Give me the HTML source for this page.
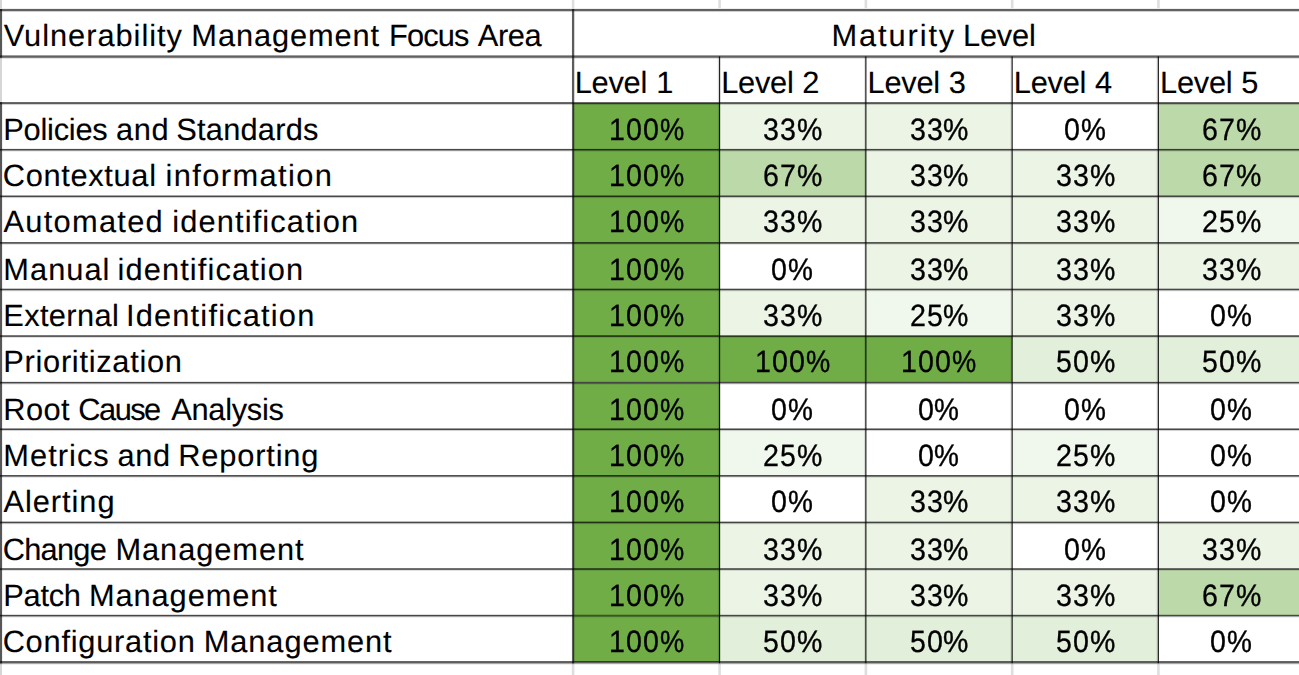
<!DOCTYPE html>
<html lang="en"><head><meta charset="utf-8"><title>Vulnerability Management Maturity</title>
<style>
html,body{margin:0;padding:0;background:#fff}
body{width:1299px;height:675px;position:relative;overflow:hidden;font-family:"Liberation Sans",sans-serif;color:#000;font-size:30.8px;line-height:1;text-rendering:geometricPrecision}
.c{position:absolute}
.gl{position:absolute;left:0;top:0;filter:blur(0.35px)}
.t{position:absolute;left:0;white-space:nowrap;height:30.8px}
.t span{position:absolute;top:0;white-space:pre;-webkit-text-stroke:0.12px #000}
.n{font-size:30.8px;height:30.8px}
.n span{-webkit-text-stroke:0.22px #000}
.n .d{transform-origin:0 0;-webkit-text-stroke:0.3px #000}
.n .p{transform-origin:0 0;-webkit-text-stroke:0.42px #000}

</style></head><body>
<div class="c" style="left:573.0px;top:103.0px;width:146.5px;height:46.6px;background:#70ad47"></div>
<div class="c" style="left:719.5px;top:103.0px;width:146.3px;height:46.6px;background:#ecf4e6"></div>
<div class="c" style="left:865.8px;top:103.0px;width:146.3px;height:46.6px;background:#ecf4e6"></div>
<div class="c" style="left:1158.3px;top:103.0px;width:146.3px;height:46.6px;background:#bcd9a9"></div>
<div class="c" style="left:573.0px;top:149.6px;width:146.5px;height:46.6px;background:#70ad47"></div>
<div class="c" style="left:719.5px;top:149.6px;width:146.3px;height:46.6px;background:#bcd9a9"></div>
<div class="c" style="left:865.8px;top:149.6px;width:146.3px;height:46.6px;background:#ecf4e6"></div>
<div class="c" style="left:1012.1px;top:149.6px;width:146.2px;height:46.6px;background:#ecf4e6"></div>
<div class="c" style="left:1158.3px;top:149.6px;width:146.3px;height:46.6px;background:#bcd9a9"></div>
<div class="c" style="left:573.0px;top:196.2px;width:146.5px;height:46.6px;background:#70ad47"></div>
<div class="c" style="left:719.5px;top:196.2px;width:146.3px;height:46.6px;background:#ecf4e6"></div>
<div class="c" style="left:865.8px;top:196.2px;width:146.3px;height:46.6px;background:#ecf4e6"></div>
<div class="c" style="left:1012.1px;top:196.2px;width:146.2px;height:46.6px;background:#ecf4e6"></div>
<div class="c" style="left:1158.3px;top:196.2px;width:146.3px;height:46.6px;background:#f0f7ec"></div>
<div class="c" style="left:573.0px;top:242.8px;width:146.5px;height:46.6px;background:#70ad47"></div>
<div class="c" style="left:865.8px;top:242.8px;width:146.3px;height:46.6px;background:#ecf4e6"></div>
<div class="c" style="left:1012.1px;top:242.8px;width:146.2px;height:46.6px;background:#ecf4e6"></div>
<div class="c" style="left:1158.3px;top:242.8px;width:146.3px;height:46.6px;background:#ecf4e6"></div>
<div class="c" style="left:573.0px;top:289.3px;width:146.5px;height:46.6px;background:#70ad47"></div>
<div class="c" style="left:719.5px;top:289.3px;width:146.3px;height:46.6px;background:#ecf4e6"></div>
<div class="c" style="left:865.8px;top:289.3px;width:146.3px;height:46.6px;background:#f0f7ec"></div>
<div class="c" style="left:1012.1px;top:289.3px;width:146.2px;height:46.6px;background:#ecf4e6"></div>
<div class="c" style="left:573.0px;top:335.9px;width:146.5px;height:46.6px;background:#70ad47"></div>
<div class="c" style="left:719.5px;top:335.9px;width:146.3px;height:46.6px;background:#70ad47"></div>
<div class="c" style="left:865.8px;top:335.9px;width:146.3px;height:46.6px;background:#70ad47"></div>
<div class="c" style="left:1012.1px;top:335.9px;width:146.2px;height:46.6px;background:#e2efda"></div>
<div class="c" style="left:1158.3px;top:335.9px;width:146.3px;height:46.6px;background:#e2efda"></div>
<div class="c" style="left:573.0px;top:382.5px;width:146.5px;height:46.6px;background:#70ad47"></div>
<div class="c" style="left:573.0px;top:429.1px;width:146.5px;height:46.6px;background:#70ad47"></div>
<div class="c" style="left:719.5px;top:429.1px;width:146.3px;height:46.6px;background:#f0f7ec"></div>
<div class="c" style="left:1012.1px;top:429.1px;width:146.2px;height:46.6px;background:#f0f7ec"></div>
<div class="c" style="left:573.0px;top:475.7px;width:146.5px;height:46.6px;background:#70ad47"></div>
<div class="c" style="left:865.8px;top:475.7px;width:146.3px;height:46.6px;background:#ecf4e6"></div>
<div class="c" style="left:1012.1px;top:475.7px;width:146.2px;height:46.6px;background:#ecf4e6"></div>
<div class="c" style="left:573.0px;top:522.3px;width:146.5px;height:46.6px;background:#70ad47"></div>
<div class="c" style="left:719.5px;top:522.3px;width:146.3px;height:46.6px;background:#ecf4e6"></div>
<div class="c" style="left:865.8px;top:522.3px;width:146.3px;height:46.6px;background:#ecf4e6"></div>
<div class="c" style="left:1158.3px;top:522.3px;width:146.3px;height:46.6px;background:#ecf4e6"></div>
<div class="c" style="left:573.0px;top:568.9px;width:146.5px;height:46.6px;background:#70ad47"></div>
<div class="c" style="left:719.5px;top:568.9px;width:146.3px;height:46.6px;background:#ecf4e6"></div>
<div class="c" style="left:865.8px;top:568.9px;width:146.3px;height:46.6px;background:#ecf4e6"></div>
<div class="c" style="left:1012.1px;top:568.9px;width:146.2px;height:46.6px;background:#ecf4e6"></div>
<div class="c" style="left:1158.3px;top:568.9px;width:146.3px;height:46.6px;background:#bcd9a9"></div>
<div class="c" style="left:573.0px;top:615.5px;width:146.5px;height:46.6px;background:#70ad47"></div>
<div class="c" style="left:719.5px;top:615.5px;width:146.3px;height:46.6px;background:#e2efda"></div>
<div class="c" style="left:865.8px;top:615.5px;width:146.3px;height:46.6px;background:#e2efda"></div>
<div class="c" style="left:1012.1px;top:615.5px;width:146.2px;height:46.6px;background:#e2efda"></div>
<svg class="gl" width="1299" height="675" viewBox="0 0 1299 675"><rect x="571.80" y="0.00" width="2.60" height="8.20" fill="#000" fill-opacity="0.13"/><rect x="571.80" y="663.66" width="2.60" height="11.34" fill="#000" fill-opacity="0.13"/><rect x="718.30" y="0.00" width="2.60" height="8.20" fill="#000" fill-opacity="0.13"/><rect x="718.30" y="663.66" width="2.60" height="11.34" fill="#000" fill-opacity="0.13"/><rect x="864.60" y="0.00" width="2.60" height="8.20" fill="#000" fill-opacity="0.13"/><rect x="864.60" y="663.66" width="2.60" height="11.34" fill="#000" fill-opacity="0.13"/><rect x="1010.90" y="0.00" width="2.60" height="8.20" fill="#000" fill-opacity="0.13"/><rect x="1010.90" y="663.66" width="2.60" height="11.34" fill="#000" fill-opacity="0.13"/><rect x="1157.10" y="0.00" width="2.60" height="8.20" fill="#000" fill-opacity="0.13"/><rect x="1157.10" y="663.66" width="2.60" height="11.34" fill="#000" fill-opacity="0.13"/><rect x="0.00" y="0.00" width="2.00" height="8.20" fill="#000" fill-opacity="0.16"/><rect x="0.00" y="57.79" width="2.00" height="43.99" fill="#000" fill-opacity="0.16"/><rect x="0.00" y="663.66" width="2.00" height="11.34" fill="#000" fill-opacity="0.16"/><rect x="0.0" y="8.90" width="1299.0" height="2.20" fill="#000" fill-opacity="0.62"/><rect x="0.0" y="11.10" width="1299.0" height="1.00" fill="#000" fill-opacity="0.14"/><rect x="0.0" y="55.39" width="1299.0" height="2.40" fill="#000" fill-opacity="0.62"/><rect x="0.0" y="57.79" width="1299.0" height="1.00" fill="#000" fill-opacity="0.14"/><rect x="0.0" y="102.08" width="1299.0" height="2.00" fill="#000" fill-opacity="0.64"/><rect x="0.0" y="104.08" width="1299.0" height="1.00" fill="#000" fill-opacity="0.14"/><rect x="0.0" y="148.92" width="1299.0" height="1.60" fill="#000" fill-opacity="0.72"/><rect x="0.0" y="150.52" width="1299.0" height="1.00" fill="#000" fill-opacity="0.14"/><rect x="0.0" y="195.51" width="1299.0" height="1.60" fill="#000" fill-opacity="0.72"/><rect x="0.0" y="197.11" width="1299.0" height="1.00" fill="#000" fill-opacity="0.14"/><rect x="0.0" y="242.10" width="1299.0" height="1.60" fill="#000" fill-opacity="0.72"/><rect x="0.0" y="243.70" width="1299.0" height="1.00" fill="#000" fill-opacity="0.14"/><rect x="0.0" y="288.69" width="1299.0" height="1.60" fill="#000" fill-opacity="0.72"/><rect x="0.0" y="290.29" width="1299.0" height="1.00" fill="#000" fill-opacity="0.14"/><rect x="0.0" y="335.28" width="1299.0" height="1.60" fill="#000" fill-opacity="0.72"/><rect x="0.0" y="336.88" width="1299.0" height="1.00" fill="#000" fill-opacity="0.14"/><rect x="0.0" y="381.87" width="1299.0" height="1.60" fill="#000" fill-opacity="0.72"/><rect x="0.0" y="383.47" width="1299.0" height="1.00" fill="#000" fill-opacity="0.14"/><rect x="0.0" y="428.46" width="1299.0" height="1.60" fill="#000" fill-opacity="0.72"/><rect x="0.0" y="430.06" width="1299.0" height="1.00" fill="#000" fill-opacity="0.14"/><rect x="0.0" y="475.05" width="1299.0" height="1.60" fill="#000" fill-opacity="0.72"/><rect x="0.0" y="476.65" width="1299.0" height="1.00" fill="#000" fill-opacity="0.14"/><rect x="0.0" y="521.64" width="1299.0" height="1.60" fill="#000" fill-opacity="0.72"/><rect x="0.0" y="523.24" width="1299.0" height="1.00" fill="#000" fill-opacity="0.14"/><rect x="0.0" y="568.23" width="1299.0" height="1.60" fill="#000" fill-opacity="0.72"/><rect x="0.0" y="569.83" width="1299.0" height="1.00" fill="#000" fill-opacity="0.14"/><rect x="0.0" y="614.82" width="1299.0" height="1.60" fill="#000" fill-opacity="0.72"/><rect x="0.0" y="616.42" width="1299.0" height="1.00" fill="#000" fill-opacity="0.14"/><rect x="0.0" y="661.06" width="1299.0" height="2.40" fill="#000" fill-opacity="0.64"/><rect x="0.0" y="663.46" width="1299.0" height="1.00" fill="#000" fill-opacity="0.14"/><rect x="0.00" y="8.90" width="2.10" height="48.89" fill="#000" fill-opacity="0.66"/><rect x="0.00" y="102.08" width="2.10" height="561.38" fill="#000" fill-opacity="0.66"/><rect x="571.95" y="8.90" width="2.30" height="654.56" fill="#000" fill-opacity="0.64"/><rect x="718.92" y="56.39" width="1.25" height="606.87" fill="#000" fill-opacity="0.86"/><rect x="717.70" y="56.39" width="1.20" height="606.87" fill="#000" fill-opacity="0.10"/><rect x="865.22" y="56.39" width="1.25" height="606.87" fill="#000" fill-opacity="0.86"/><rect x="864.00" y="56.39" width="1.20" height="606.87" fill="#000" fill-opacity="0.10"/><rect x="1011.52" y="56.39" width="1.25" height="606.87" fill="#000" fill-opacity="0.86"/><rect x="1010.30" y="56.39" width="1.20" height="606.87" fill="#000" fill-opacity="0.10"/><rect x="1157.72" y="56.39" width="1.25" height="606.87" fill="#000" fill-opacity="0.86"/><rect x="1156.50" y="56.39" width="1.20" height="606.87" fill="#000" fill-opacity="0.10"/></svg>
<div class="t" style="top:21px"><span style="left:3.71px;letter-spacing:0.970px">Vulnerability </span><span style="left:191.37px;letter-spacing:0.877px">Management </span><span style="left:388.97px;letter-spacing:-0.839px">Focus </span><span style="left:477.86px;letter-spacing:-0.420px">Area</span></div>
<div class="t" style="top:21px"><span style="left:831.57px;letter-spacing:1.879px">Maturity </span><span style="left:962.97px;letter-spacing:-0.200px">Level</span></div>
<div class="t" style="top:68px"><span style="left:574.77px;letter-spacing:-0.275px">Level </span><span style="left:656.24px">1</span></div>
<div class="t" style="top:68px"><span style="left:721.27px;letter-spacing:-0.275px">Level </span><span style="left:802.22px">2</span></div>
<div class="t" style="top:68px"><span style="left:867.57px;letter-spacing:-0.275px">Level </span><span style="left:948.77px">3</span></div>
<div class="t" style="top:68px"><span style="left:1013.87px;letter-spacing:-0.275px">Level </span><span style="left:1094.99px">4</span></div>
<div class="t" style="top:68px"><span style="left:1160.07px;letter-spacing:-0.275px">Level </span><span style="left:1241.30px">5</span></div>
<div class="t" style="top:115px"><span style="left:3.32px;letter-spacing:-0.246px">Policies </span><span style="left:116.02px;letter-spacing:0.647px">and </span><span style="left:176.35px;letter-spacing:0.204px">Standards</span></div>
<div class="t" style="top:161px"><span style="left:2.84px;letter-spacing:0.658px">Contextual </span><span style="left:165.41px;letter-spacing:1.418px">information</span></div>
<div class="t" style="top:207px"><span style="left:3.56px;letter-spacing:1.275px">Automated </span><span style="left:172.21px;letter-spacing:1.138px">identification</span></div>
<div class="t" style="top:255px"><span style="left:3.32px;letter-spacing:1.028px">Manual </span><span style="left:117.51px;letter-spacing:1.114px">identification</span></div>
<div class="t" style="top:301px"><span style="left:3.32px;letter-spacing:0.349px">External </span><span style="left:125.94px;letter-spacing:1.186px">Identification</span></div>
<div class="t" style="top:347px"><span style="left:3.32px;letter-spacing:0.705px">Prioritization</span></div>
<div class="t" style="top:395px"><span style="left:3.32px;letter-spacing:0.375px">Root </span><span style="left:78.34px;letter-spacing:-1.528px">Cause </span><span style="left:171.26px;letter-spacing:-0.297px">Analysis</span></div>
<div class="t" style="top:441px"><span style="left:3.32px;letter-spacing:1.030px">Metrics </span><span style="left:117.52px;letter-spacing:0.597px">and </span><span style="left:178.27px;letter-spacing:0.823px">Reporting</span></div>
<div class="t" style="top:487px"><span style="left:3.56px;letter-spacing:0.935px">Alerting</span></div>
<div class="t" style="top:535px"><span style="left:2.64px;letter-spacing:-0.733px">Change </span><span style="left:115.47px;letter-spacing:0.932px">Management</span></div>
<div class="t" style="top:581px"><span style="left:3.27px;letter-spacing:-0.278px">Patch </span><span style="left:88.97px;letter-spacing:0.899px">Management</span></div>
<div class="t" style="top:627px"><span style="left:2.64px;letter-spacing:0.755px">Configuration </span><span style="left:203.77px;letter-spacing:0.899px">Management</span></div>
<div class="t n" style="top:115px"><span class="d" style="left:608.53px;transform:scaleX(0.93);letter-spacing:1.15px">100</span><span class="p" style="left:659.67px;transform:scaleX(0.884)">%</span></div>
<div class="t n" style="top:115px"><span class="d" style="left:763.30px;transform:scaleX(0.93);letter-spacing:1.15px">33</span><span class="p" style="left:797.18px;transform:scaleX(0.925)">%</span></div>
<div class="t n" style="top:115px"><span class="d" style="left:909.60px;transform:scaleX(0.93);letter-spacing:1.15px">33</span><span class="p" style="left:943.48px;transform:scaleX(0.925)">%</span></div>
<div class="t n" style="top:115px"><span class="d" style="left:1063.94px;transform:scaleX(0.93)">0</span><span class="p" style="left:1080.64px;transform:scaleX(0.909)">%</span></div>
<div class="t n" style="top:115px"><span class="d" style="left:1201.89px;transform:scaleX(0.93);letter-spacing:1.15px">67</span><span class="p" style="left:1235.98px;transform:scaleX(0.925)">%</span></div>
<div class="t n" style="top:161px"><span class="d" style="left:608.53px;transform:scaleX(0.93);letter-spacing:1.15px">100</span><span class="p" style="left:659.67px;transform:scaleX(0.884)">%</span></div>
<div class="t n" style="top:161px"><span class="d" style="left:763.09px;transform:scaleX(0.93);letter-spacing:1.15px">67</span><span class="p" style="left:797.18px;transform:scaleX(0.925)">%</span></div>
<div class="t n" style="top:161px"><span class="d" style="left:909.60px;transform:scaleX(0.93);letter-spacing:1.15px">33</span><span class="p" style="left:943.48px;transform:scaleX(0.925)">%</span></div>
<div class="t n" style="top:161px"><span class="d" style="left:1055.85px;transform:scaleX(0.93);letter-spacing:1.15px">33</span><span class="p" style="left:1089.73px;transform:scaleX(0.925)">%</span></div>
<div class="t n" style="top:161px"><span class="d" style="left:1201.89px;transform:scaleX(0.93);letter-spacing:1.15px">67</span><span class="p" style="left:1235.98px;transform:scaleX(0.925)">%</span></div>
<div class="t n" style="top:207px"><span class="d" style="left:608.53px;transform:scaleX(0.93);letter-spacing:1.15px">100</span><span class="p" style="left:659.67px;transform:scaleX(0.884)">%</span></div>
<div class="t n" style="top:207px"><span class="d" style="left:763.30px;transform:scaleX(0.93);letter-spacing:1.15px">33</span><span class="p" style="left:797.18px;transform:scaleX(0.925)">%</span></div>
<div class="t n" style="top:207px"><span class="d" style="left:909.60px;transform:scaleX(0.93);letter-spacing:1.15px">33</span><span class="p" style="left:943.48px;transform:scaleX(0.925)">%</span></div>
<div class="t n" style="top:207px"><span class="d" style="left:1055.85px;transform:scaleX(0.93);letter-spacing:1.15px">33</span><span class="p" style="left:1089.73px;transform:scaleX(0.925)">%</span></div>
<div class="t n" style="top:207px"><span class="d" style="left:1202.08px;transform:scaleX(0.93);letter-spacing:1.15px">25</span><span class="p" style="left:1235.98px;transform:scaleX(0.925)">%</span></div>
<div class="t n" style="top:255px"><span class="d" style="left:608.53px;transform:scaleX(0.93);letter-spacing:1.15px">100</span><span class="p" style="left:659.67px;transform:scaleX(0.884)">%</span></div>
<div class="t n" style="top:255px"><span class="d" style="left:771.39px;transform:scaleX(0.93)">0</span><span class="p" style="left:788.09px;transform:scaleX(0.909)">%</span></div>
<div class="t n" style="top:255px"><span class="d" style="left:909.60px;transform:scaleX(0.93);letter-spacing:1.15px">33</span><span class="p" style="left:943.48px;transform:scaleX(0.925)">%</span></div>
<div class="t n" style="top:255px"><span class="d" style="left:1055.85px;transform:scaleX(0.93);letter-spacing:1.15px">33</span><span class="p" style="left:1089.73px;transform:scaleX(0.925)">%</span></div>
<div class="t n" style="top:255px"><span class="d" style="left:1202.10px;transform:scaleX(0.93);letter-spacing:1.15px">33</span><span class="p" style="left:1235.98px;transform:scaleX(0.925)">%</span></div>
<div class="t n" style="top:301px"><span class="d" style="left:608.53px;transform:scaleX(0.93);letter-spacing:1.15px">100</span><span class="p" style="left:659.67px;transform:scaleX(0.884)">%</span></div>
<div class="t n" style="top:301px"><span class="d" style="left:763.30px;transform:scaleX(0.93);letter-spacing:1.15px">33</span><span class="p" style="left:797.18px;transform:scaleX(0.925)">%</span></div>
<div class="t n" style="top:301px"><span class="d" style="left:909.58px;transform:scaleX(0.93);letter-spacing:1.15px">25</span><span class="p" style="left:943.48px;transform:scaleX(0.925)">%</span></div>
<div class="t n" style="top:301px"><span class="d" style="left:1055.85px;transform:scaleX(0.93);letter-spacing:1.15px">33</span><span class="p" style="left:1089.73px;transform:scaleX(0.925)">%</span></div>
<div class="t n" style="top:301px"><span class="d" style="left:1210.19px;transform:scaleX(0.93)">0</span><span class="p" style="left:1226.89px;transform:scaleX(0.909)">%</span></div>
<div class="t n" style="top:347px"><span class="d" style="left:608.53px;transform:scaleX(0.93);letter-spacing:1.15px">100</span><span class="p" style="left:659.67px;transform:scaleX(0.884)">%</span></div>
<div class="t n" style="top:347px"><span class="d" style="left:754.93px;transform:scaleX(0.93);letter-spacing:1.15px">100</span><span class="p" style="left:806.07px;transform:scaleX(0.884)">%</span></div>
<div class="t n" style="top:347px"><span class="d" style="left:901.23px;transform:scaleX(0.93);letter-spacing:1.15px">100</span><span class="p" style="left:952.37px;transform:scaleX(0.884)">%</span></div>
<div class="t n" style="top:347px"><span class="d" style="left:1055.78px;transform:scaleX(0.93);letter-spacing:1.15px">50</span><span class="p" style="left:1089.73px;transform:scaleX(0.925)">%</span></div>
<div class="t n" style="top:347px"><span class="d" style="left:1202.03px;transform:scaleX(0.93);letter-spacing:1.15px">50</span><span class="p" style="left:1235.98px;transform:scaleX(0.925)">%</span></div>
<div class="t n" style="top:395px"><span class="d" style="left:608.53px;transform:scaleX(0.93);letter-spacing:1.15px">100</span><span class="p" style="left:659.67px;transform:scaleX(0.884)">%</span></div>
<div class="t n" style="top:395px"><span class="d" style="left:771.39px;transform:scaleX(0.93)">0</span><span class="p" style="left:788.09px;transform:scaleX(0.909)">%</span></div>
<div class="t n" style="top:395px"><span class="d" style="left:917.69px;transform:scaleX(0.93)">0</span><span class="p" style="left:934.39px;transform:scaleX(0.909)">%</span></div>
<div class="t n" style="top:395px"><span class="d" style="left:1063.94px;transform:scaleX(0.93)">0</span><span class="p" style="left:1080.64px;transform:scaleX(0.909)">%</span></div>
<div class="t n" style="top:395px"><span class="d" style="left:1210.19px;transform:scaleX(0.93)">0</span><span class="p" style="left:1226.89px;transform:scaleX(0.909)">%</span></div>
<div class="t n" style="top:441px"><span class="d" style="left:608.53px;transform:scaleX(0.93);letter-spacing:1.15px">100</span><span class="p" style="left:659.67px;transform:scaleX(0.884)">%</span></div>
<div class="t n" style="top:441px"><span class="d" style="left:763.28px;transform:scaleX(0.93);letter-spacing:1.15px">25</span><span class="p" style="left:797.18px;transform:scaleX(0.925)">%</span></div>
<div class="t n" style="top:441px"><span class="d" style="left:917.69px;transform:scaleX(0.93)">0</span><span class="p" style="left:934.39px;transform:scaleX(0.909)">%</span></div>
<div class="t n" style="top:441px"><span class="d" style="left:1055.83px;transform:scaleX(0.93);letter-spacing:1.15px">25</span><span class="p" style="left:1089.73px;transform:scaleX(0.925)">%</span></div>
<div class="t n" style="top:441px"><span class="d" style="left:1210.19px;transform:scaleX(0.93)">0</span><span class="p" style="left:1226.89px;transform:scaleX(0.909)">%</span></div>
<div class="t n" style="top:487px"><span class="d" style="left:608.53px;transform:scaleX(0.93);letter-spacing:1.15px">100</span><span class="p" style="left:659.67px;transform:scaleX(0.884)">%</span></div>
<div class="t n" style="top:487px"><span class="d" style="left:771.39px;transform:scaleX(0.93)">0</span><span class="p" style="left:788.09px;transform:scaleX(0.909)">%</span></div>
<div class="t n" style="top:487px"><span class="d" style="left:909.60px;transform:scaleX(0.93);letter-spacing:1.15px">33</span><span class="p" style="left:943.48px;transform:scaleX(0.925)">%</span></div>
<div class="t n" style="top:487px"><span class="d" style="left:1055.85px;transform:scaleX(0.93);letter-spacing:1.15px">33</span><span class="p" style="left:1089.73px;transform:scaleX(0.925)">%</span></div>
<div class="t n" style="top:487px"><span class="d" style="left:1210.19px;transform:scaleX(0.93)">0</span><span class="p" style="left:1226.89px;transform:scaleX(0.909)">%</span></div>
<div class="t n" style="top:535px"><span class="d" style="left:608.53px;transform:scaleX(0.93);letter-spacing:1.15px">100</span><span class="p" style="left:659.67px;transform:scaleX(0.884)">%</span></div>
<div class="t n" style="top:535px"><span class="d" style="left:763.30px;transform:scaleX(0.93);letter-spacing:1.15px">33</span><span class="p" style="left:797.18px;transform:scaleX(0.925)">%</span></div>
<div class="t n" style="top:535px"><span class="d" style="left:909.60px;transform:scaleX(0.93);letter-spacing:1.15px">33</span><span class="p" style="left:943.48px;transform:scaleX(0.925)">%</span></div>
<div class="t n" style="top:535px"><span class="d" style="left:1063.94px;transform:scaleX(0.93)">0</span><span class="p" style="left:1080.64px;transform:scaleX(0.909)">%</span></div>
<div class="t n" style="top:535px"><span class="d" style="left:1202.10px;transform:scaleX(0.93);letter-spacing:1.15px">33</span><span class="p" style="left:1235.98px;transform:scaleX(0.925)">%</span></div>
<div class="t n" style="top:581px"><span class="d" style="left:608.53px;transform:scaleX(0.93);letter-spacing:1.15px">100</span><span class="p" style="left:659.67px;transform:scaleX(0.884)">%</span></div>
<div class="t n" style="top:581px"><span class="d" style="left:763.30px;transform:scaleX(0.93);letter-spacing:1.15px">33</span><span class="p" style="left:797.18px;transform:scaleX(0.925)">%</span></div>
<div class="t n" style="top:581px"><span class="d" style="left:909.60px;transform:scaleX(0.93);letter-spacing:1.15px">33</span><span class="p" style="left:943.48px;transform:scaleX(0.925)">%</span></div>
<div class="t n" style="top:581px"><span class="d" style="left:1055.85px;transform:scaleX(0.93);letter-spacing:1.15px">33</span><span class="p" style="left:1089.73px;transform:scaleX(0.925)">%</span></div>
<div class="t n" style="top:581px"><span class="d" style="left:1201.89px;transform:scaleX(0.93);letter-spacing:1.15px">67</span><span class="p" style="left:1235.98px;transform:scaleX(0.925)">%</span></div>
<div class="t n" style="top:627px"><span class="d" style="left:608.53px;transform:scaleX(0.93);letter-spacing:1.15px">100</span><span class="p" style="left:659.67px;transform:scaleX(0.884)">%</span></div>
<div class="t n" style="top:627px"><span class="d" style="left:763.23px;transform:scaleX(0.93);letter-spacing:1.15px">50</span><span class="p" style="left:797.18px;transform:scaleX(0.925)">%</span></div>
<div class="t n" style="top:627px"><span class="d" style="left:909.53px;transform:scaleX(0.93);letter-spacing:1.15px">50</span><span class="p" style="left:943.48px;transform:scaleX(0.925)">%</span></div>
<div class="t n" style="top:627px"><span class="d" style="left:1055.78px;transform:scaleX(0.93);letter-spacing:1.15px">50</span><span class="p" style="left:1089.73px;transform:scaleX(0.925)">%</span></div>
<div class="t n" style="top:627px"><span class="d" style="left:1210.19px;transform:scaleX(0.93)">0</span><span class="p" style="left:1226.89px;transform:scaleX(0.909)">%</span></div>
</body></html>
